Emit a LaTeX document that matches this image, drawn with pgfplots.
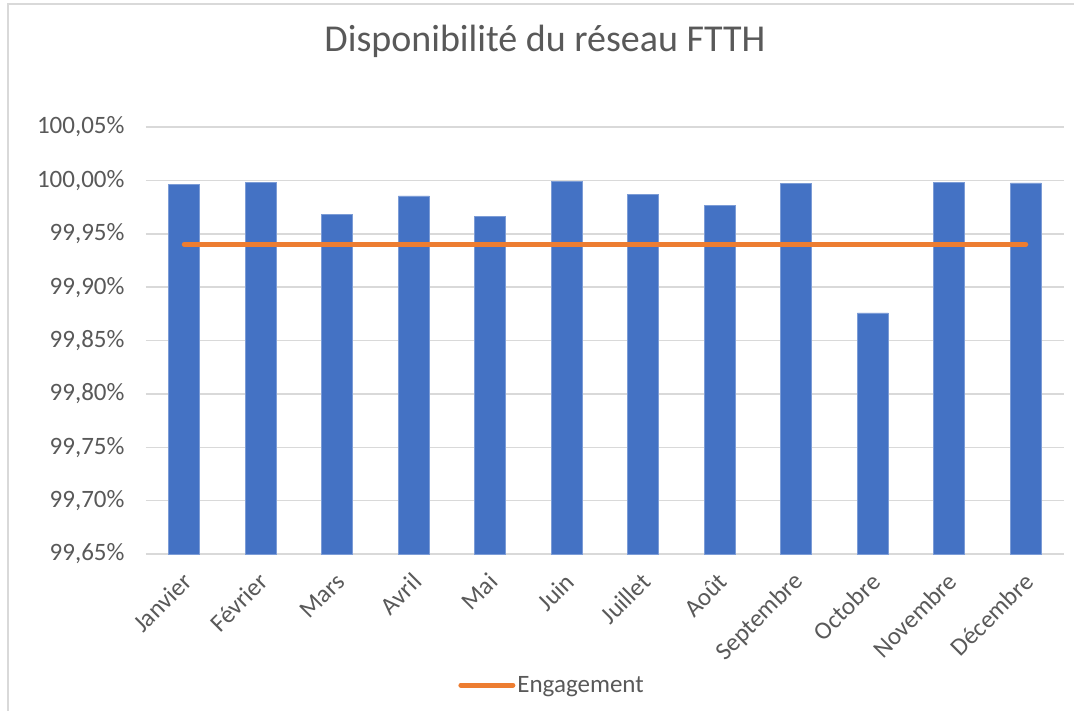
\documentclass[border=0pt]{standalone}
\usepackage{fontspec}
\setmainfont{Carlito}
\usepackage{pgfplots}
\pgfplotsset{compat=1.18}
\definecolor{barblue}{HTML}{4472C4}
\definecolor{engorange}{HTML}{ED7D31}
\definecolor{gridgray}{HTML}{D9D9D9}
\definecolor{txtgray}{HTML}{595959}
\begin{document}
\begin{tikzpicture}
% page = 1074 x 710 (1px = 1pt), axis origin at pixel (146,554)
\path[use as bounding box] (-146pt,-156pt) rectangle (928pt,554pt);
\draw[gridgray, line width=1.5pt] (-138pt,-160pt) -- (-138pt,550pt) -- (935pt,550pt);
\begin{axis}[
    scale only axis,
    width=918pt, height=427pt,
    xmin=-0.5, xmax=11.5,
    ymin=99.65, ymax=100.05,
    ytick={99.65,99.70,...,100.06},
    xtick={0,...,11},
    xticklabels={Janvier,Février,Mars,Avril,Mai,Juin,Juillet,Août,Septembre,Octobre,Novembre,Décembre},
    axis y line*=left,
    axis x line*=bottom,
    y axis line style={draw=none},
    x axis line style={gridgray, line width=1.5pt, -},
    major tick length=0pt,
    ymajorgrids,
    grid style={gridgray, line width=1.5pt},
    /pgf/number format/assume math mode=true,
    yticklabel={\pgfmathprintnumber[fixed, fixed zerofill, precision=2, use comma]{\tick}\%},
    yticklabel style={anchor=east, xshift=-18pt},
    xticklabel style={rotate=45, anchor=east, xshift=-11pt, yshift=-19pt},
    ticklabel style={font=\fontsize{25}{30}\selectfont, text=txtgray},
    title={Disponibilité du réseau FTTH},
    title style={at={(0.4346,1.187)}, anchor=center, font=\fontsize{38}{44}\selectfont, text=txtgray},
    legend style={at={(0.4423,-0.307)}, anchor=center, draw=none, fill=none,
        font=\fontsize{25}{30}\selectfont, text=txtgray},
    legend image code/.code={\draw[engorange, line width=5pt, line cap=round] (0pt,0pt) -- (52pt,0pt);},
    legend cell align=left,
    clip=false,
]
\addplot[ybar, bar width=31pt, fill=barblue, draw=barblue!70!white, line width=0.6pt, forget plot]
    coordinates {(0,99.9963) (1,99.9983) (2,99.9678) (3,99.9855) (4,99.9662) (5,99.9987)
                 (6,99.9869) (7,99.9769) (8,99.9972) (9,99.8758) (10,99.9982) (11,99.9976)};
\addplot[engorange, line width=5pt, line cap=round]
    coordinates {(0,99.94) (11,99.94)};
\addlegendentry{Engagement}
\end{axis}
\end{tikzpicture}
\end{document}
